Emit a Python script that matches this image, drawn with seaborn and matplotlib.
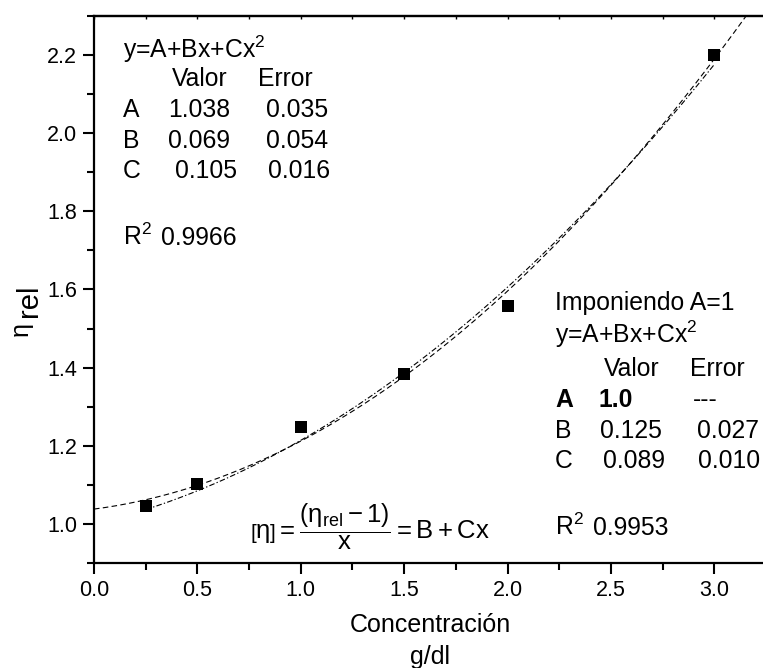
import numpy as np
import matplotlib
matplotlib.use("Agg")
import matplotlib.pyplot as plt
import seaborn as sns

# Measured relative viscosity vs. concentration
concentracion = [0.25, 0.5, 1.0, 1.5, 2.0, 3.0]
eta_rel = [1.046, 1.102, 1.248, 1.385, 1.559, 2.199]

# Quadratic fit y = A + Bx + Cx^2 (free A) and with A fixed to 1
fit_libre = {"A": 1.038, "B": 0.069, "C": 0.105}
fit_a1 = {"A": 1.0, "B": 0.125, "C": 0.089}

x_ticks = [0.0, 0.5, 1.0, 1.5, 2.0, 2.5, 3.0]
y_ticks = [1.0, 1.2, 1.4, 1.6, 1.8, 2.0, 2.2]

sns.set_theme(style="ticks")
plt.rcParams["font.family"] = ["Liberation Sans", "DejaVu Sans"]
plt.rcParams["mathtext.fontset"] = "custom"
plt.rcParams["mathtext.rm"] = "Liberation Sans"
plt.rcParams["mathtext.it"] = "Liberation Sans:italic"
plt.rcParams["mathtext.bf"] = "Liberation Sans:bold"

W, H = 763, 668
fig = plt.figure(figsize=(W / 100, H / 100), dpi=100)
ax = fig.add_axes([94 / W, 1 - 563 / H, 672 / W, 547 / H])


def quad(p, x):
    x = np.asarray(x)
    return p["A"] + p["B"] * x + p["C"] * x ** 2


x1 = np.linspace(0.0, 3.25, 300)
x2 = np.linspace(concentracion[0], concentracion[-1], 300)

sns.lineplot(x=x1, y=quad(fit_libre, x1), ax=ax, color="black", lw=0.8,
             linestyle=(0, (5, 3)), sort=False, estimator=None)
sns.lineplot(x=x2, y=quad(fit_a1, x2), ax=ax, color="black", lw=0.8,
             linestyle=(0, (5, 2, 1.2, 2)), sort=False, estimator=None)
sns.scatterplot(x=concentracion, y=eta_rel, ax=ax, marker="s", s=80,
                color="black", edgecolor="black", linewidth=0, zorder=5)

ax.set_xlim(0.0, 3.25)
ax.set_ylim(0.9, 2.3)
ax.set_xticks(x_ticks)
ax.set_yticks(y_ticks)
ax.set_xticklabels([f"{v:.1f}" for v in x_ticks])
ax.set_yticklabels([f"{v:.1f}" for v in y_ticks])
ax.xaxis.set_minor_locator(matplotlib.ticker.MultipleLocator(0.25))
ax.yaxis.set_minor_locator(matplotlib.ticker.MultipleLocator(0.1))
ax.tick_params(which="major", direction="out", length=8, width=1.5,
               labelsize=15.5, color="black", labelcolor="black", pad=4)
ax.tick_params(which="minor", direction="out", length=5, width=1.5,
               color="black")
for side in ["left", "bottom", "top"]:
    ax.spines[side].set_linewidth(1.6)
    ax.spines[side].set_color("black")
ax.spines["right"].set_visible(False)

top = ax.secondary_xaxis("top")
top.set_xticks(x_ticks)
top.xaxis.set_minor_locator(matplotlib.ticker.MultipleLocator(0.25))
top.tick_params(which="both", direction="in", length=2, width=1,
                labeltop=False, color="black")
top.spines["top"].set_linewidth(1.6)

ax.set_xlabel("Concentración\ng/dl", fontsize=18, color="black",
              linespacing=1.4, labelpad=9)
ax.set_ylabel("")

# y axis label: eta with 'rel' subscript
fig.text(21 / W, 1 - 329 / H, "η", rotation=90, ha="center", va="center",
         fontsize=18, color="black")
fig.text(29 / W, 1 - 301 / H, "rel", rotation=90, ha="center", va="center",
         fontsize=21, color="black")


def t(x, y, s, **kw):
    kw.setdefault("fontsize", 17.8)
    fig.text(x / W, 1 - y / H, s, va="baseline", ha="left", color="black", **kw)


# Free quadratic fit results
t(123, 58, r"y=A+Bx+Cx$^{2}$")
t(172, 86, "Valor")
t(258, 86, "Error")
t(123, 117, "A")
t(168, 117, f"{fit_libre['A']:.3f}")
t(266, 117, "0.035")
t(123, 148, "B")
t(168, 148, f"{fit_libre['B']:.3f}")
t(266, 148, "0.054")
t(123, 178, "C")
t(175, 178, f"{fit_libre['C']:.3f}")
t(268, 178, "0.016")
t(123, 245, r"R$^{2}$")
t(161, 245, "0.9966")

# Fit with A fixed to 1
t(555, 310, "Imponiendo A=1")
t(555, 343, r"y=A+Bx+Cx$^{2}$")
t(604, 376, "Valor")
t(690, 376, "Error")
t(555, 407, "A", fontweight="bold")
t(599, 407, f"{fit_a1['A']:.1f}", fontweight="bold")
t(693, 407, "---")
t(555, 438, "B")
t(600, 438, f"{fit_a1['B']:.3f}")
t(697, 438, "0.027")
t(555, 468, "C")
t(603, 468, f"{fit_a1['C']:.3f}")
t(698, 468, "0.010")
t(555, 535, r"R$^{2}$")
t(593, 535, "0.9953")

# Intrinsic viscosity relation
fig.text(250 / W, 1 - 527 / H,
         r"$\left[\mathrm{\eta}\right]=\dfrac{\left(\mathrm{\eta_{rel}}-1\right)}{\mathrm{x}}=\mathrm{B}+\mathrm{Cx}$",
         fontsize=18.5, ha="left", va="center", color="black")

fig.savefig("out.png", dpi=100)
